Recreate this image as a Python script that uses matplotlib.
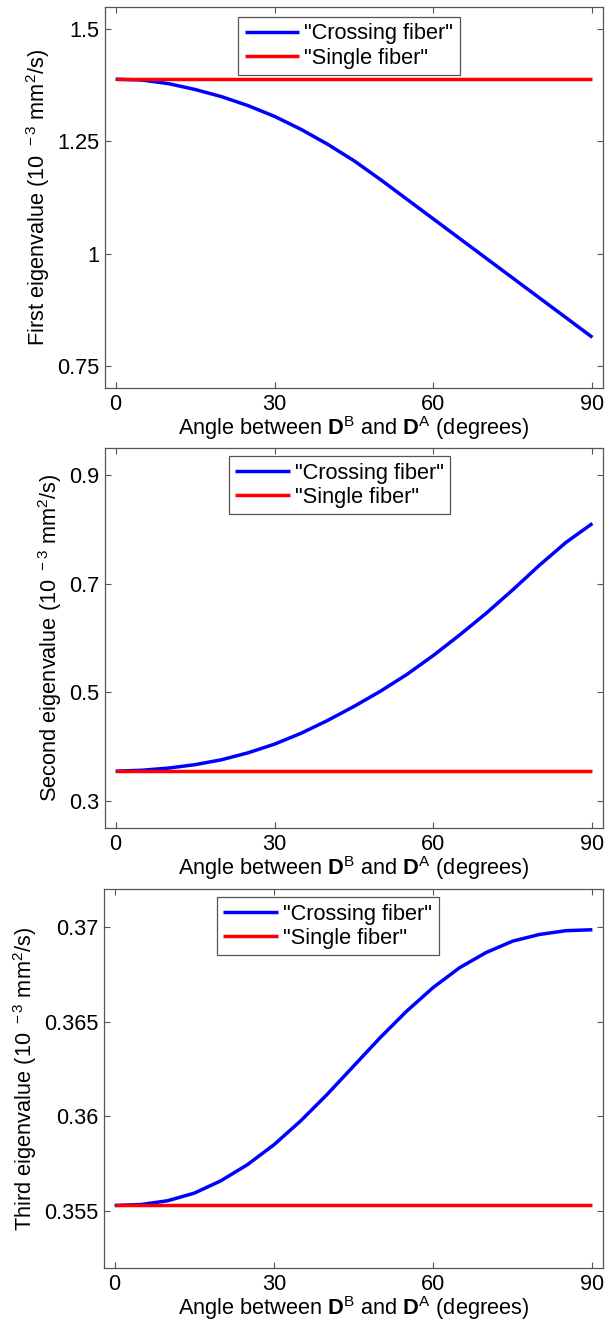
import matplotlib
matplotlib.use("Agg")
import matplotlib.pyplot as plt

plt.rcParams['font.family'] = ['Liberation Sans', 'DejaVu Sans']
plt.rcParams['mathtext.fontset'] = 'custom'
plt.rcParams['mathtext.rm'] = 'Liberation Sans'
plt.rcParams['mathtext.it'] = 'Liberation Sans:italic'
plt.rcParams['mathtext.bf'] = 'Liberation Sans:bold'

# ---------------- data ----------------
angles = [0, 5, 10, 15, 20, 25, 30, 35, 40, 45, 50, 55, 60, 65, 70, 75, 80, 85, 90]

first_crossing = [1.389, 1.387, 1.379, 1.366, 1.350, 1.330, 1.306, 1.277, 1.244, 1.207,
                  1.165, 1.121, 1.077, 1.033, 0.989, 0.945, 0.901, 0.857, 0.813]
first_single = 1.389

second_crossing = [0.3546, 0.3564, 0.3604, 0.3667, 0.3757, 0.3885, 0.4045, 0.4245, 0.4480, 0.4740,
                   0.5020, 0.5330, 0.5680, 0.6060, 0.6460, 0.6890, 0.7340, 0.7760, 0.8110]
second_single = 0.3546

third_crossing = [0.3553, 0.35535, 0.35555, 0.35595, 0.3566, 0.35745, 0.3585, 0.35975, 0.36115, 0.36265,
                  0.36415, 0.36555, 0.3668, 0.36785, 0.36865, 0.36925, 0.3696, 0.3698, 0.36985]
third_single = 0.3553

x_ticks = [0, 30, 60, 90]
first_yticks = [0.75, 1.0, 1.25, 1.5]
first_yticklabels = ["0.75", "1", "1.25", "1.5"]
second_yticks = [0.3, 0.5, 0.7, 0.9]
second_yticklabels = ["0.3", "0.5", "0.7", "0.9"]
third_yticks = [0.355, 0.36, 0.365, 0.37]
third_yticklabels = ["0.355", "0.36", "0.365", "0.37"]

legend_labels = ['"Crossing fiber"', '"Single fiber"']
ylabels = [r"First eigenvalue (10$^{\ \,-3}$ mm$^{2}$/s)",
           r"Second eigenvalue (10$^{\ \,-3}$ mm$^{2}$/s)",
           r"Third eigenvalue (10$^{\ \,-3}$ mm$^{2}$/s)"]
xlabel = r"Angle between $\mathbf{D}^{\mathrm{B}}$ and $\mathbf{D}^{\mathrm{A}}$ (degrees)"

# ---------------- figure ----------------
W, H = 606, 1323
FS = 15.7
fig = plt.figure(figsize=(W / 100, H / 100), dpi=100)

def frac_axes(left, top, right, bottom):
    return fig.add_axes([left / W, 1 - bottom / H, (right - left) / W, (bottom - top) / H])

panels = [
    dict(box=(105, 7, 603, 388), cross=first_crossing, single=first_single,
         ylim=(0.7, 1.55), yt=first_yticks, ytl=first_yticklabels, leg=(0.267, 0.974)),
    dict(box=(105, 448, 603, 828), cross=second_crossing, single=second_single,
         ylim=(0.25, 0.95), yt=second_yticks, ytl=second_yticklabels, leg=(0.248, 0.979)),
    dict(box=(104, 889, 603, 1268), cross=third_crossing, single=third_single,
         ylim=(0.352, 0.372), yt=third_yticks, ytl=third_yticklabels, leg=(0.226, 0.979)),
]

for p, ylab in zip(panels, ylabels):
    ax = frac_axes(*p['box'])
    ax.plot(angles, p['cross'], color=(0, 0, 1), lw=2.5, label=legend_labels[0],
            solid_capstyle='butt', solid_joinstyle='round')
    ax.plot([angles[0], angles[-1]], [p['single'], p['single']], color=(1, 0, 0), lw=2.5,
            label=legend_labels[1], solid_capstyle='butt')
    ax.set_xlim(-2, 92)
    ax.set_ylim(*p['ylim'])
    ax.set_xticks(x_ticks)
    ax.set_xticklabels([str(t) for t in x_ticks])
    ax.set_yticks(p['yt'])
    ax.set_yticklabels(p['ytl'])
    ax.tick_params(direction='in', top=True, right=True, length=4, width=0.8,
                   color='#555555', labelsize=FS, pad=4)
    for s in ax.spines.values():
        s.set_color('#555555')
        s.set_linewidth(0.9)
    ax.set_xlabel(xlabel, fontsize=FS, labelpad=0)
    ax.set_ylabel(ylab, fontsize=FS, labelpad=4)
    leg = ax.legend(loc='upper left', bbox_to_anchor=p['leg'], fontsize=FS,
                    handlelength=2.5, handletextpad=0.25, labelspacing=0.15,
                    borderpad=0.3, borderaxespad=0, fancybox=False, framealpha=1)
    leg.get_frame().set_edgecolor('#555555')
    leg.get_frame().set_linewidth(0.9)

fig.savefig("out.png", dpi=100)
